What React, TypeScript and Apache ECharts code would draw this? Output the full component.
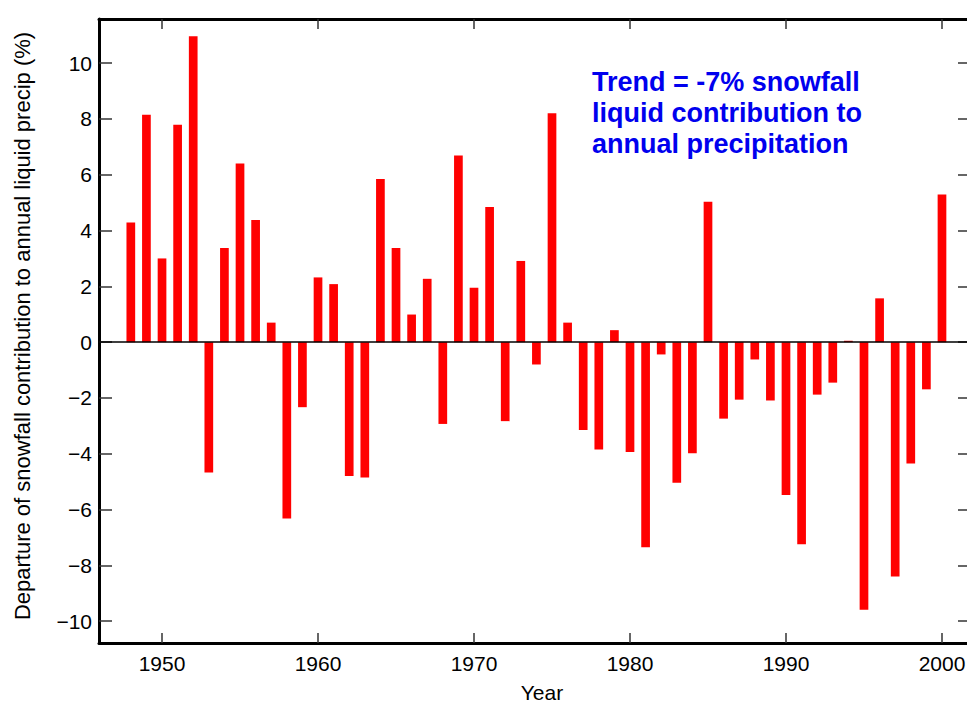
import React, { useEffect, useRef } from "react";
import * as echarts from "echarts";

const years = [
  1948, 1949, 1950, 1951, 1952, 1953, 1954, 1955, 1956, 1957,
  1958, 1959, 1960, 1961, 1962, 1963, 1964, 1965, 1966, 1967,
  1968, 1969, 1970, 1971, 1972, 1973, 1974, 1975, 1976, 1977,
  1978, 1979, 1980, 1981, 1982, 1983, 1984, 1985, 1986, 1987,
  1988, 1989, 1990, 1991, 1992, 1993, 1994, 1995, 1996, 1997,
  1998, 1999, 2000,
];

const departures = [
  4.29, 8.15, 3.0, 7.79, 10.96, -4.67, 3.37, 6.4, 4.38, 0.7,
  -6.32, -2.33, 2.32, 2.08, -4.8, -4.85, 5.85, 3.37, 0.99, 2.27,
  -2.93, 6.69, 1.95, 4.84, -2.83, 2.91, -0.8, 8.2, 0.7, -3.15,
  -3.85, 0.43, -3.94, -7.35, -0.44, -5.04, -3.98, 5.03, -2.74, -2.06,
  -0.62, -2.09, -5.48, -7.24, -1.88, -1.45, 0.05, -9.59, 1.57, -8.4,
  -4.35, -1.69, 5.29,
];

const xTicks = [1950, 1960, 1970, 1980, 1990, 2000];
const yTicks = [-10, -8, -6, -4, -2, 0, 2, 4, 6, 8, 10];

const annotationLines = [
  "Trend = -7% snowfall",
  "liquid contribution to",
  "annual precipitation",
];

const FONT = "'Liberation Sans', Arial, Helvetica, sans-serif";

export default function App() {
  const ref = useRef<HTMLDivElement | null>(null);

  useEffect(() => {
    if (!ref.current) return;
    const chart = echarts.init(ref.current, null, { renderer: "svg" });
    const axisLine = { show: true, onZero: false, lineStyle: { color: "#000", width: 3 } };
    const tickStyle = { color: "#333", width: 1.5 };
    const xCommon = {
      type: "value" as const,
      min: 1945.96,
      max: 2001.86,
      splitLine: { show: false },
      axisLine,
    };
    const yCommon = {
      type: "value" as const,
      min: -10.78,
      max: 11.58,
      splitLine: { show: false },
      axisLine,
    };
    chart.setOption({
      animation: false,
      backgroundColor: "#fff",
      textStyle: { fontFamily: FONT },
      grid: { left: 99, right: 4, top: 19, bottom: 64, containLabel: false },
      xAxis: [
        {
          ...xCommon,
          position: "bottom",
          name: "Year",
          nameLocation: "middle",
          nameGap: 39,
          nameTextStyle: { color: "#000", fontSize: 21, fontFamily: FONT, padding: [0, 0, 0, 14] },
          axisTick: { show: true, inside: true, length: 10, lineStyle: tickStyle, customValues: xTicks },
          axisLabel: {
            show: true,
            color: "#000",
            fontSize: 21,
            fontFamily: FONT,
            margin: 10,
            customValues: xTicks,
            formatter: (v: number) => String(v),
          },
        },
        {
          ...xCommon,
          position: "top",
          axisTick: { show: true, inside: true, length: 10, lineStyle: tickStyle, customValues: xTicks },
          axisLabel: { show: false },
        },
      ],
      yAxis: [
        {
          ...yCommon,
          position: "left",
          name: "Departure of snowfall contribution to annual liquid precip (%)",
          nameLocation: "middle",
          nameGap: 66,
          nameTextStyle: { color: "#000", fontSize: 22, fontFamily: FONT, padding: [0, 0, 0, 10] },
          axisTick: { show: true, inside: true, length: 13, lineStyle: tickStyle, customValues: yTicks },
          axisLabel: {
            show: true,
            color: "#000",
            fontSize: 21,
            fontFamily: FONT,
            margin: 7,
            customValues: yTicks,
            formatter: (v: number) => (v < 0 ? "\u2212" + Math.abs(v) : String(v)),
          },
        },
        {
          ...yCommon,
          position: "right",
          axisTick: { show: true, inside: true, length: 13, lineStyle: tickStyle, customValues: yTicks },
          axisLabel: { show: false },
        },
      ],
      series: [
        {
          type: "bar",
          xAxisIndex: 0,
          yAxisIndex: 0,
          barWidth: 8.7,
          itemStyle: { color: "#ff0000" },
          data: years.map((y, i) => [y, departures[i]]),
          markLine: {
            silent: true,
            symbol: ["none", "none"],
            label: { show: false },
            lineStyle: { color: "#000", width: 1.5, type: "solid" },
            data: [{ yAxis: 0 }],
          },
        },
      ],
      graphic: [
        {
          type: "text",
          left: 592,
          top: 66,
          style: {
            text: annotationLines.join("\n"),
            fill: "#0000ee",
            font: `bold 27px ${FONT}`,
            lineHeight: 31,
          },
        },
      ],
    });
    return () => chart.dispose();
  }, []);

  return (
    <div
      style={{
        position: "fixed",
        left: 0,
        top: 0,
        width: 967,
        height: 708,
        overflow: "hidden",
        background: "#fff",
      }}
    >
      <div ref={ref} style={{ width: 975, height: 708 }} />
    </div>
  );
}
